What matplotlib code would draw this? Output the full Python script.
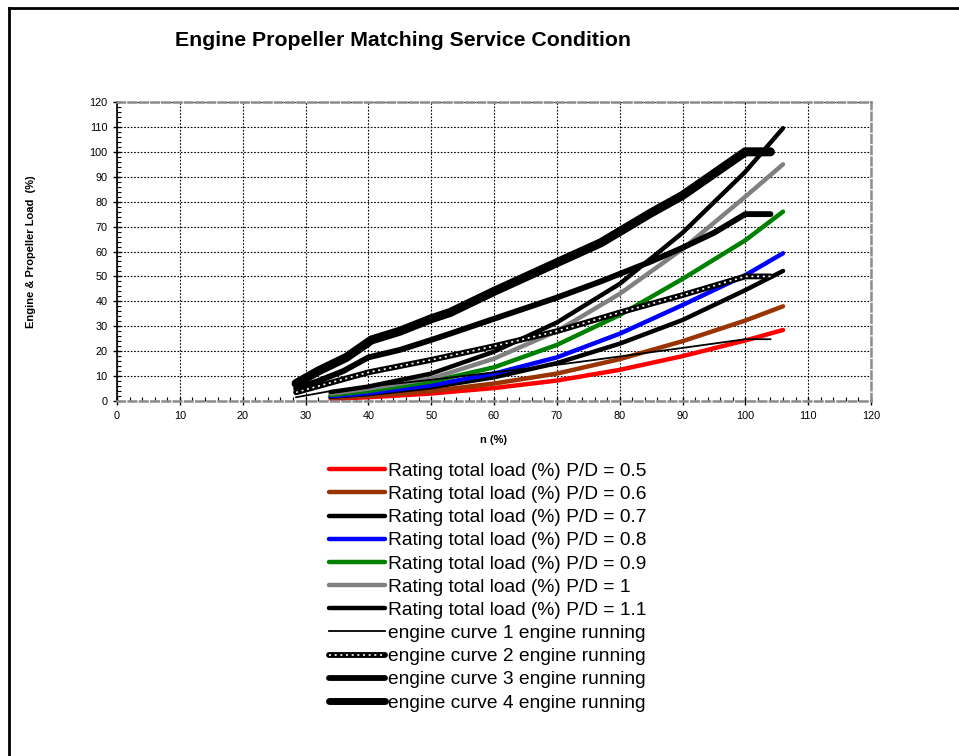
import numpy as np
import matplotlib
matplotlib.use('Agg')
import matplotlib.pyplot as plt
from matplotlib.lines import Line2D
from matplotlib.ticker import MultipleLocator

plt.rcParams['font.family'] = ['Liberation Sans', 'DejaVu Sans']

# propeller (rating) curves, n (%) vs load (%)
n_rating = [34, 40, 50, 60, 70, 80, 90, 100, 106]
pd_05 = [0.9, 1.5, 3.0, 5.2, 8.2, 12.5, 18.0, 24.3, 28.5]
pd_06 = [1.2, 2.0, 4.0, 7.0, 11.0, 16.8, 24.0, 32.3, 38.0]
pd_07 = [1.7, 2.8, 5.5, 9.5, 15.2, 23.0, 32.5, 44.5, 52.2]
pd_08 = [1.9, 3.2, 6.3, 11.0, 17.5, 27.0, 38.5, 50.5, 59.3]
pd_09 = [2.4, 4.0, 7.8, 13.5, 22.5, 34.5, 49.0, 64.5, 76.0]
pd_10 = [3.0, 5.0, 9.0, 17.0, 28.0, 43.0, 61.0, 82.0, 95.0]
pd_11 = [3.6, 5.8, 11.0, 19.8, 31.5, 47.0, 67.5, 92.0, 109.5]

# engine curves
n_eng1 = [28.5, 34, 40, 50, 60, 70, 76, 90, 100, 104]
eng1 = [1.5, 4.0, 5.8, 8.5, 11.5, 14.5, 16.5, 21.3, 24.8, 24.8]
n_eng2 = [28.5, 40, 50, 60, 70, 80, 90, 100, 104]
eng2 = [3.5, 11.5, 16.5, 22.0, 28.0, 35.5, 42.5, 50.0, 50.0]
n_eng3 = [28.5, 32, 36, 40, 45, 50, 53, 60, 70, 77, 85, 90, 95, 100, 104]
eng3 = [5.0, 8.0, 12.0, 17.5, 20.5, 24.5, 27.0, 33.0, 41.5, 48.0, 56.0, 61.5, 67.5, 75.0, 75.0]
n_eng4 = [28.5, 32, 36.5, 40.5, 45, 50, 53, 60, 70, 77, 85, 90, 100, 104]
eng4 = [7.0, 12.0, 17.5, 24.5, 28.0, 33.0, 35.5, 44.0, 55.5, 63.5, 75.5, 82.5, 100.0, 100.0]

rating_labels = ['Rating total load (%) P/D = 0.5', 'Rating total load (%) P/D = 0.6',
                 'Rating total load (%) P/D = 0.7', 'Rating total load (%) P/D = 0.8',
                 'Rating total load (%) P/D = 0.9', 'Rating total load (%) P/D = 1',
                 'Rating total load (%) P/D = 1.1']
engine_labels = ['engine curve 1 engine running', 'engine curve 2 engine running',
                 'engine curve 3 engine running', 'engine curve 4 engine running']

rating = [pd_05, pd_06, pd_07, pd_08, pd_09, pd_10, pd_11]
colors = ['#ff0000', '#993300', '#000000', '#0000ff', '#008000', '#808080', '#000000']

fig = plt.figure(figsize=(9.59, 7.56), dpi=100)
ax = fig.add_axes([117/959, 1-401/756, (871-117)/959, (401-102)/756])

handles = []
for y, c in zip(rating, colors):
    h, = ax.plot(n_rating, y, color=c, lw=3.2, solid_capstyle='round', solid_joinstyle='round')
    handles.append(h)

h1, = ax.plot(n_eng1, eng1, color='black', lw=1.3)
h2, = ax.plot(n_eng2, eng2, color='black', lw=4.2, solid_capstyle='round', solid_joinstyle='round')
h2w, = ax.plot(n_eng2, eng2, color='white', lw=1.2, dashes=(1.2, 2.2))
h3, = ax.plot(n_eng3, eng3, color='black', lw=4.2, solid_capstyle='round', solid_joinstyle='round')
h4, = ax.plot(n_eng4, eng4, color='black', lw=6.5, solid_capstyle='round', solid_joinstyle='round')
handles += [h1, (h2, h2w), h3, h4]

ax.set_xlim(0, 120)
ax.set_ylim(0, 120)
ax.xaxis.set_major_locator(MultipleLocator(10))
ax.yaxis.set_major_locator(MultipleLocator(10))
ax.xaxis.set_minor_locator(MultipleLocator(2))
ax.yaxis.set_minor_locator(MultipleLocator(2))
ax.tick_params(which='major', direction='inout', length=6, width=1, labelsize=7.8, pad=4)
ax.tick_params(which='minor', direction='in', length=3, width=0.8)
ax.grid(True, which='major', color='black', ls=(0, (1.5, 1.5)), lw=0.8)
ax.set_axisbelow(True)

for side in ['top', 'right', 'bottom']:
    ax.spines[side].set_color('#8c8c8c')
    ax.spines[side].set_linestyle((0, (3, 1.5)))
    ax.spines[side].set_linewidth(1.8)
ax.spines['left'].set_color('black')
ax.spines['left'].set_linewidth(1.2)

ax.set_xlabel('n (%)', fontsize=8, fontweight='bold', labelpad=10)
ax.set_ylabel('Engine & Propeller Load  (%)', fontsize=8, fontweight='bold', labelpad=38)

fig.text(403/959, 1-41/756, 'Engine Propeller Matching Service Condition',
         ha='center', va='center', fontsize=15.3, fontweight='bold')

leg = fig.legend(handles, rating_labels + engine_labels, loc='center',
                 bbox_to_anchor=(488/959, 1-587/756), frameon=False, fontsize=13.8,
                 handlelength=2.9, handletextpad=0.2, labelspacing=0.3, borderaxespad=0)
# engine curve 4 handle a bit thinner in the legend, like the reference
leg.legend_handles[-1].set_linewidth(5.0)

# figure border (only top and left visible)
fig.add_artist(Line2D([9/959, 9/959], [0, 1-8/756], color='black', lw=2))
fig.add_artist(Line2D([9/959, 1], [1-8/756, 1-8/756], color='black', lw=2))

fig.savefig('out.png', dpi=100)
